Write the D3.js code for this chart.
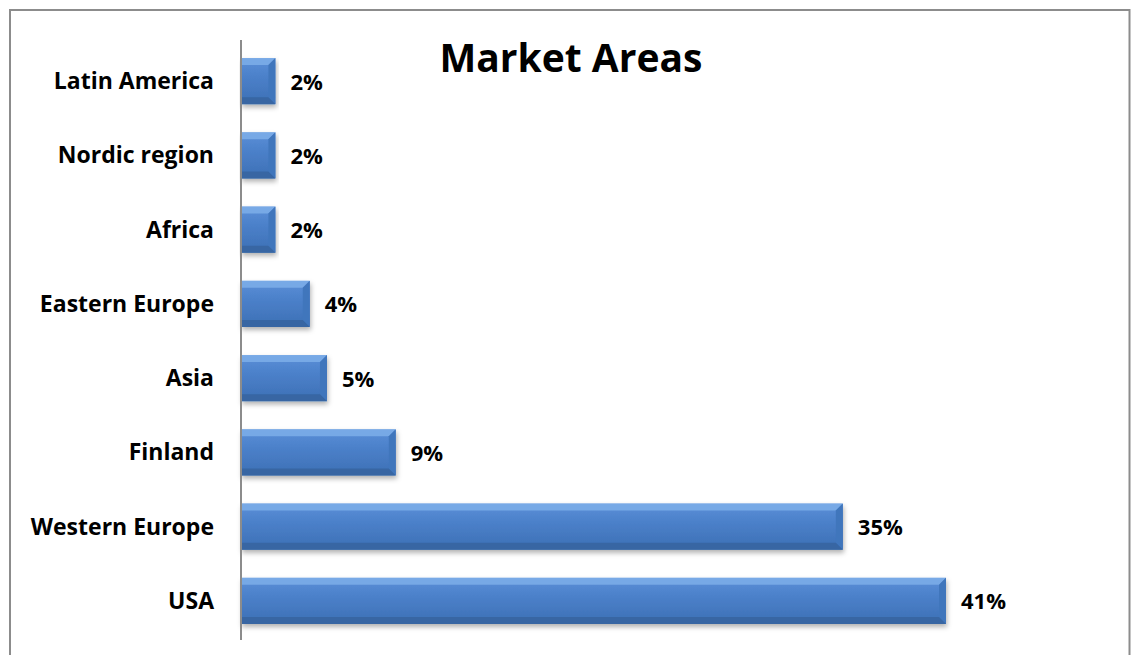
<!DOCTYPE html>
<html>
<head>
<meta charset="utf-8">
<script src="https://cdnjs.cloudflare.com/ajax/libs/d3/7.8.5/d3.min.js"></script>
<style>
  body { margin: 0; background: #fff; }
  text { font-family: "Open Sans", sans-serif; font-weight: bold; fill: #000; }
</style>
</head>
<body>
<div id="chart"></div>
<script>
var categories = ["Latin America", "Nordic region", "Africa", "Eastern Europe", "Asia", "Finland", "Western Europe", "USA"];
var values = [2, 2, 2, 4, 5, 9, 35, 41];
var labels = ["2%", "2%", "2%", "4%", "5%", "9%", "35%", "41%"];

var W = 1131, H = 655;
var margin = {top: 44, left: 241, bottom: 15};

var svg = d3.select("#chart").append("svg")
  .attr("width", W).attr("height", H);

var defs = svg.append("defs");
var grad = defs.append("linearGradient").attr("id", "barGrad")
  .attr("x1", 0).attr("y1", 0).attr("x2", 0).attr("y2", 1);
grad.append("stop").attr("offset", "0%").attr("stop-color", "#5a8fd8");
grad.append("stop").attr("offset", "45%").attr("stop-color", "#4a7fc8");
grad.append("stop").attr("offset", "100%").attr("stop-color", "#3d70b5");

var shadow = defs.append("filter").attr("id", "shadow")
  .attr("x", "-5%").attr("y", "-10%").attr("width", "115%").attr("height", "140%");
shadow.append("feDropShadow").attr("dx", 1).attr("dy", 3).attr("stdDeviation", 2.5)
  .attr("flood-color", "#000").attr("flood-opacity", 0.3);

// outer border
svg.append("rect").attr("x", 10).attr("y", 10).attr("width", 1119.5).attr("height", 660)
  .attr("fill", "none").attr("stroke", "#8c8c8c").attr("stroke-width", 2);

var y = d3.scaleBand().domain(categories)
  .range([margin.top, 638]).paddingInner(0.38).paddingOuter(0.19);
var x = d3.scaleLinear().domain([0, 41]).range([margin.left, 946]);

// title
svg.append("text").attr("x", 571).attr("y", 72).attr("text-anchor", "middle")
  .style("font-size", "39px").text("Market Areas");

var bev = 7;
var g = svg.append("g").selectAll("g").data(categories).enter().append("g")
  .attr("filter", "url(#shadow)");

g.append("rect")
  .attr("x", x(0)).attr("y", d => y(d))
  .attr("width", (d, i) => x(values[i]) - x(0))
  .attr("height", y.bandwidth())
  .attr("fill", "url(#barGrad)");

// top bevel
g.append("path").attr("fill", "#7fb0ea").attr("opacity", 0.8)
  .attr("d", (d, i) => {
    var x0 = x(0), x1 = x(values[i]), y0 = y(d);
    return "M" + x0 + "," + y0 + "L" + x1 + "," + y0 + "L" + (x1 - bev) + "," + (y0 + bev) +
      "L" + x0 + "," + (y0 + bev) + "Z";
  });
// right bevel
g.append("path").attr("fill", "#4176bc")
  .attr("d", (d, i) => {
    var x1 = x(values[i]), y0 = y(d), y1 = y(d) + y.bandwidth();
    return "M" + x1 + "," + y0 + "L" + x1 + "," + y1 + "L" + (x1 - bev) + "," + (y1 - bev) +
      "L" + (x1 - bev) + "," + (y0 + bev) + "Z";
  });
// bottom bevel
g.append("path").attr("fill", "#3766a3")
  .attr("d", (d, i) => {
    var x0 = x(0), x1 = x(values[i]), y1 = y(d) + y.bandwidth();
    return "M" + x0 + "," + y1 + "L" + x1 + "," + y1 + "L" + (x1 - bev) + "," + (y1 - bev) +
      "L" + x0 + "," + (y1 - bev) + "Z";
  });

// value labels
svg.append("g").selectAll("text").data(categories).enter().append("text")
  .attr("x", (d, i) => x(values[i]) + 15)
  .attr("y", d => y(d) + y.bandwidth() / 2 + 8.5)
  .style("font-size", "22px")
  .text((d, i) => labels[i]);

// category axis
var axis = svg.append("g").attr("transform", "translate(" + x(0) + ",0)")
  .call(d3.axisLeft(y).tickSize(0).tickPadding(27));
axis.select(".domain").attr("stroke", "#8c8c8c").attr("stroke-width", 2)
  .attr("d", "M0,40V640");
axis.selectAll("text").style("font-size", "23px")
  .style("font-family", "'Open Sans', sans-serif").style("font-weight", "bold")
  .attr("fill", "#000").attr("dy", null).attr("y", 8);
</script>
</body>
</html>
